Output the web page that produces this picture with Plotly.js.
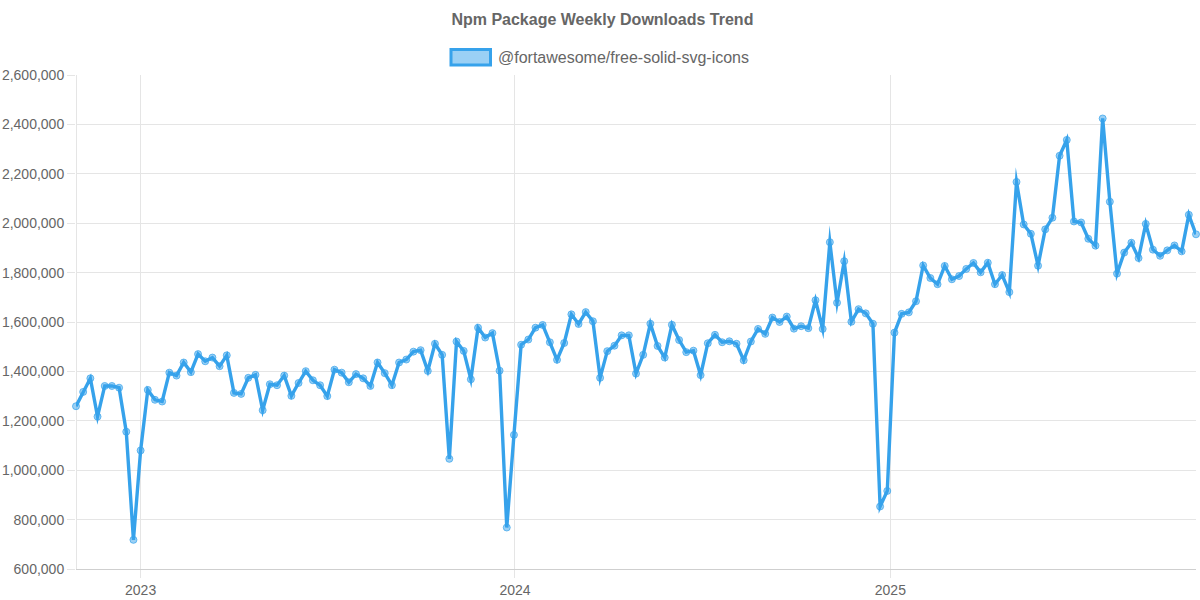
<!DOCTYPE html>
<html>
<head>
<meta charset="utf-8">
<script src="https://cdn.plot.ly/plotly-3.0.1.min.js"></script>
<style>html,body{margin:0;padding:0;background:#fff}#chart{width:1200px;height:600px}</style>
</head>
<body>
<div id="chart"></div>
<script>
const seriesName = "@fortawesome/free-solid-svg-icons";
const chartTitle = "Npm Package Weekly Downloads Trend";
const weeks = [
"2022-10-30","2022-11-06","2022-11-13","2022-11-20","2022-11-27","2022-12-04","2022-12-11","2022-12-18","2022-12-25",
"2023-01-01","2023-01-08","2023-01-15","2023-01-22","2023-01-29","2023-02-05","2023-02-12","2023-02-19","2023-02-26",
"2023-03-05","2023-03-12","2023-03-19","2023-03-26","2023-04-02","2023-04-09","2023-04-16","2023-04-23","2023-04-30",
"2023-05-07","2023-05-14","2023-05-21","2023-05-28","2023-06-04","2023-06-11","2023-06-18","2023-06-25","2023-07-02",
"2023-07-09","2023-07-16","2023-07-23","2023-07-30","2023-08-06","2023-08-13","2023-08-20","2023-08-27","2023-09-03",
"2023-09-10","2023-09-17","2023-09-24","2023-10-01","2023-10-08","2023-10-15","2023-10-22","2023-10-29","2023-11-05",
"2023-11-12","2023-11-19","2023-11-26","2023-12-03","2023-12-10","2023-12-17","2023-12-24","2023-12-31",
"2024-01-07","2024-01-14","2024-01-21","2024-01-28","2024-02-04","2024-02-11","2024-02-18","2024-02-25","2024-03-03",
"2024-03-10","2024-03-17","2024-03-24","2024-03-31","2024-04-07","2024-04-14","2024-04-21","2024-04-28","2024-05-05",
"2024-05-12","2024-05-19","2024-05-26","2024-06-02","2024-06-09","2024-06-16","2024-06-23","2024-06-30","2024-07-07",
"2024-07-14","2024-07-21","2024-07-28","2024-08-04","2024-08-11","2024-08-18","2024-08-25","2024-09-01","2024-09-08",
"2024-09-15","2024-09-22","2024-09-29","2024-10-06","2024-10-13","2024-10-20","2024-10-27","2024-11-03","2024-11-10",
"2024-11-17","2024-11-24","2024-12-01","2024-12-08","2024-12-15","2024-12-22","2024-12-29",
"2025-01-05","2025-01-12","2025-01-19","2025-01-26","2025-02-02","2025-02-09","2025-02-16","2025-02-23","2025-03-02",
"2025-03-09","2025-03-16","2025-03-23","2025-03-30","2025-04-06","2025-04-13","2025-04-20","2025-04-27","2025-05-04",
"2025-05-11","2025-05-18","2025-05-25","2025-06-01","2025-06-08","2025-06-15","2025-06-22","2025-06-29","2025-07-06",
"2025-07-13","2025-07-20","2025-07-27","2025-08-03","2025-08-10","2025-08-17","2025-08-24","2025-08-31","2025-09-07",
"2025-09-14","2025-09-21","2025-09-28","2025-10-05","2025-10-12","2025-10-19","2025-10-26"];
const downloads = [
1259000,1317000,1372000,1217000,1341000,1341000,1334000,1156000,718000,1080000,
1325000,1285000,1278000,1395000,1383000,1436000,1397000,1470000,1441000,1456000,
1421000,1465000,1313000,1309000,1374000,1386000,1243000,1348000,1344000,1383000,
1301000,1353000,1401000,1364000,1344000,1300000,1407000,1395000,1356000,1389000,
1372000,1341000,1436000,1393000,1344000,1436000,1448000,1480000,1486000,1402000,
1512000,1467000,1046000,1521000,1483000,1368000,1577000,1537000,1555000,1403000,
768000,1143000,1508000,1529000,1577000,1588000,1518000,1447000,1515000,1631000,
1592000,1640000,1603000,1374000,1482000,1504000,1546000,1546000,1391000,1467000,
1593000,1503000,1456000,1589000,1527000,1478000,1484000,1385000,1514000,1548000,
1518000,1522000,1512000,1445000,1521000,1572000,1552000,1618000,1600000,1622000,
1573000,1583000,1575000,1688000,1572000,1923000,1678000,1846000,1601000,1652000,
1635000,1593000,853000,916000,1557000,1633000,1639000,1684000,1829000,1778000,
1753000,1827000,1773000,1786000,1815000,1839000,1801000,1840000,1753000,1790000,
1721000,2167000,1995000,1957000,1828000,1975000,2022000,2273000,2337000,2007000,
2003000,1937000,1909000,2424000,2087000,1796000,1881000,1921000,1859000,1997000,
1893000,1868000,1890000,1910000,1886000,2034000,1955000];
const yRange = [600000,2600000];
const xRange = ["2022-10-30","2025-10-26"];
const textFont = '"Liberation Sans", Arial, sans-serif';
const grid = "#e5e5e5";
const M = {l:76,r:4,t:75,b:31};
const W = 1200-M.l-M.r, H = 600-M.t-M.b;
const px = v => (v-M.l)/W, py = v => (600-M.b-v)/H;

Plotly.newPlot("chart",[{
  type:"scatter",mode:"lines+markers",x:weeks,y:downloads,name:seriesName,cliponaxis:false,
  line:{color:"#36a2eb",width:3.4,shape:"linear"},
  marker:{size:7,color:"rgba(54,162,235,0.5)",line:{color:"rgba(54,162,235,0.7)",width:1}}
}],{
  width:1200,height:600,showlegend:false,
  paper_bgcolor:"#fff",plot_bgcolor:"#fff",
  margin:{l:M.l,r:M.r,t:M.t,b:M.b,pad:0},
  title:{text:"<b>"+chartTitle+"</b>",x:0.5020,xanchor:"center",y:0.967,yanchor:"middle",font:{family:textFont,size:16,color:"#666"}},
  xaxis:{type:"date",range:xRange,dtick:"M12",tick0:"2023-01-01",tickformat:"%Y",showgrid:true,gridcolor:grid,gridwidth:1,
    ticks:"outside",ticklen:8,tickcolor:grid,tickwidth:1,showline:true,linecolor:"#cfcfcf",linewidth:1,zeroline:false,
    tickfont:{family:textFont,size:14,color:"#666"}},
  yaxis:{range:yRange,dtick:200000,tick0:600000,tickformat:",d",showgrid:true,gridcolor:grid,gridwidth:1,
    ticks:"outside",ticklen:8,tickcolor:grid,tickwidth:1,showline:false,zeroline:false,
    tickfont:{family:textFont,size:14,color:"#666"}},
  shapes:[
    {type:"line",layer:"below",xref:"paper",yref:"paper",x0:px(76.5),x1:px(76.5),y0:0,y1:1,line:{color:grid,width:1}},
    {type:"rect",xref:"paper",yref:"paper",x0:px(451),x1:px(490.5),y0:py(65),y1:py(49.5),
    fillcolor:"rgba(54,162,235,0.5)",line:{color:"#36a2eb",width:3}}],
  annotations:[{text:seriesName,xref:"paper",yref:"paper",x:px(498),y:py(57.5),xanchor:"left",yanchor:"middle",showarrow:false,
    xshift:-2,font:{family:textFont,size:16,color:"#666"}}]
},{displayModeBar:false,responsive:false}).then(function(gd){
  gd.querySelectorAll(".js-line").forEach(function(p){p.style.strokeLinejoin="miter";p.style.strokeMiterlimit="10";});
  gd.querySelectorAll(".shapelayer path").forEach(function(p){p.style.strokeLinejoin="miter";});
});
</script>
</body>
</html>
